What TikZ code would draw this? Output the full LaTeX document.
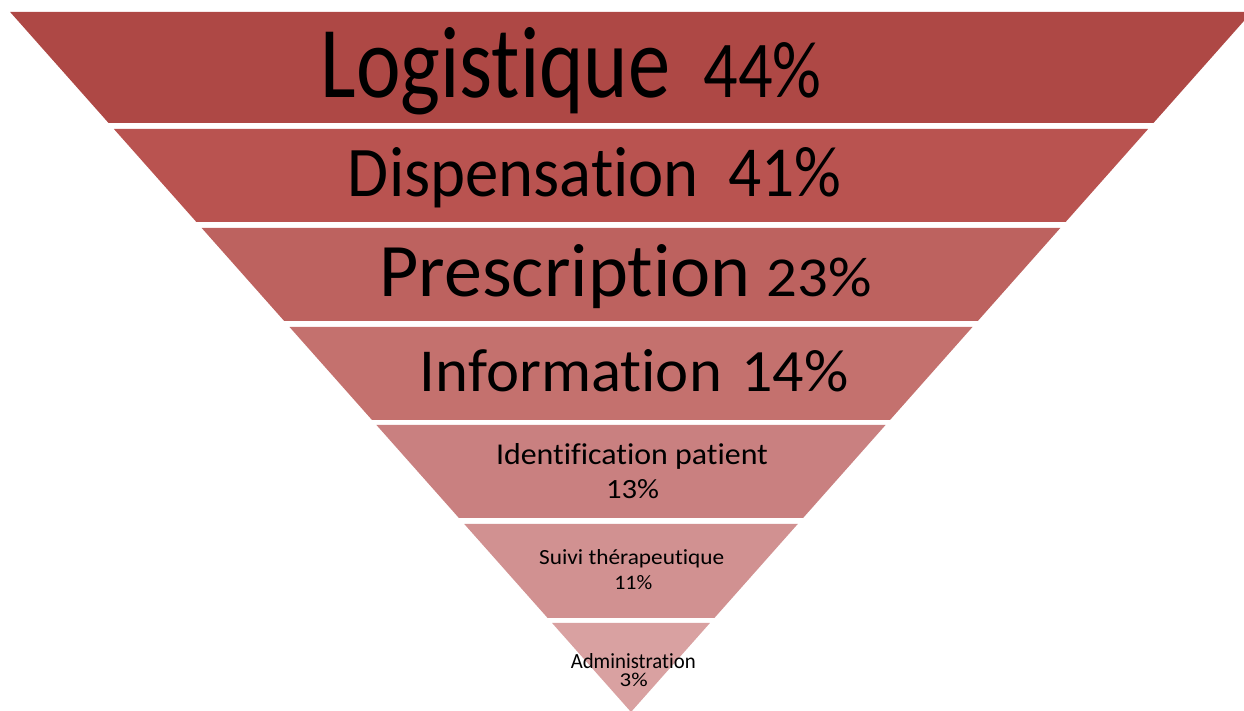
\documentclass[tikz,border=0pt]{standalone}
\usepackage{fontspec}
\usepackage{graphicx}
\setmainfont{Carlito}[Ligatures={NoCommon}]
\definecolor{cA}{HTML}{AE4845}
\definecolor{cB}{HTML}{B95350}
\definecolor{cC}{HTML}{BD625F}
\definecolor{cD}{HTML}{C4716E}
\definecolor{cE}{HTML}{C98080}
\definecolor{cF}{HTML}{D19191}
\definecolor{cG}{HTML}{D9A1A1}
\newcommand{\rztxt}[3]{\resizebox{#1pt}{#2pt}{\fontsize{50}{60}\selectfont #3}}
\begin{document}
\begin{tikzpicture}[x=1pt,y=1pt,
  lbl/.style={inner sep=0pt, outer sep=0pt, anchor=base, text=black}]
\useasboundingbox (0,0) rectangle (1244,711);
\clip (0,0) rectangle (1244,711);
% bands: top, bottom (image y), colour
\foreach \t/\b/\c in {12/123/cA, 129/222/cB, 228/321/cC, 327/420/cD, 425/518/cE, 524/618/cF}{
  \fill[\c] ({631-0.887*(712-\t)},{711-\t}) -- ({631+0.887*(712-\t)},{711-\t})
    -- ({631+0.887*(712-\b)},{711-\b}) -- ({631-0.887*(712-\b)},{711-\b}) -- cycle;
}
\fill[cG] ({631-0.887*(712-623)},{711-623}) -- ({631+0.887*(712-623)},{711-623}) -- (631,-1) -- cycle;
% texts (width, height above baseline, in px)
\node[lbl] (t1a) at (495.5,613) {\rztxt{350}{70}{Logistique}};
\node[lbl] (t1b) at (762.5,613) {\rztxt{118}{55}{44\%}};
\node[lbl] (t2a) at (523.5,514.3) {\rztxt{351}{49}{Dispensation}};
\node[lbl] (t2b) at (785,514.3) {\rztxt{113}{49}{41\%}};
\node[lbl] (t3a) at (565,414.3) {\rztxt{371}{52}{Prescription}};
\node[lbl] (t3b) at (819,414.3) {\rztxt{105}{38.5}{23\%}};
\node[lbl] (t4a) at (571,319.3) {\rztxt{302}{42}{Information}};
\node[lbl] (t4b) at (795,319.3) {\rztxt{107}{41}{14\%}};
\node[lbl] (t5a) at (632,246.7) {\rztxt{272}{21}{Identification patient}};
\node[lbl] (t5b) at (632.5,212) {\rztxt{53}{19}{13\%}};
\node[lbl] (t6a) at (631.7,146) {\rztxt{185}{15}{Suivi thérapeutique}};
\node[lbl] (t6b) at (633.3,121) {\rztxt{38}{14}{11\%}};
\node[lbl] (t7a) at (633.3,42.7) {\rztxt{125}{15}{Administration}};
\node[lbl] (t7b) at (633.7,24.3) {\rztxt{28}{13.4}{3\%}};
\end{tikzpicture}
\end{document}
